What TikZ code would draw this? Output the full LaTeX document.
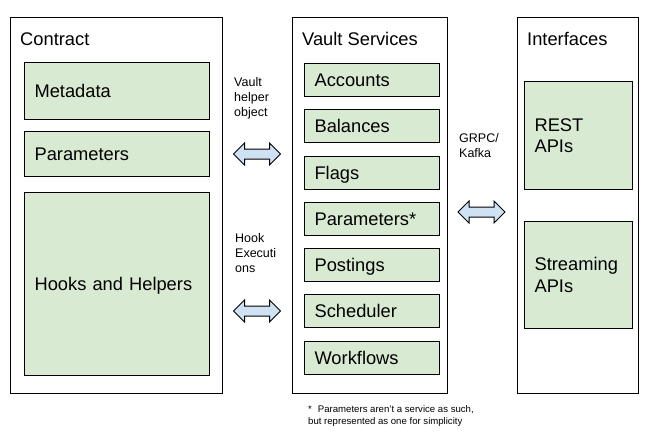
\documentclass[tikz,border=0pt]{standalone}
\usepackage{fontspec}
\setmainfont{Liberation Sans}
\definecolor{boxgreen}{HTML}{D9EAD3}
\definecolor{arrowblue}{HTML}{CFE2F3}
\begin{document}
\begin{tikzpicture}[x=1pt,y=-1pt,
  outerbox/.style={draw=black, line width=1.1pt, anchor=north west, inner sep=0pt},
  greenbox/.style={draw=black, line width=1.1pt, fill=boxgreen, anchor=north west, inner xsep=10pt, inner ysep=0pt, align=left, font=\fontsize{18.3}{21.7}\selectfont},
  oneline/.style={text height=13pt, text depth=0pt},
  titletext/.style={anchor=base west, inner sep=0pt, font=\fontsize{18.3}{21.7}\selectfont},
  sidelabel/.style={anchor=base west, inner sep=0pt, align=left, font=\fontsize{12.5}{15}\selectfont},
  arrowshape/.style={draw=black, line width=1pt, fill=arrowblue, line join=miter},
  dblarrow/.pic={\draw[arrowshape] (-23.5,0) -- (-12.5,-11) -- (-12.5,-5) -- (12.5,-5) -- (12.5,-11) -- (23.5,0) -- (12.5,11) -- (12.5,5) -- (-12.5,5) -- (-12.5,11) -- cycle;}
]
\useasboundingbox (0,0) rectangle (648,442);

% outer boxes
\node[outerbox, minimum width=212pt, minimum height=376pt] (contract) at (10,17) {};
\node[outerbox, minimum width=155pt, minimum height=376pt] (vault) at (292,17) {};
\node[outerbox, minimum width=121pt, minimum height=376pt] (interfaces) at (517,17) {};

\node[titletext] (tcontract) at (20,45.5) {Contract};
\node[titletext] (tvault) at (302,45.5) {Vault Services};
\node[titletext] (tinterfaces) at (527,45.5) {Interfaces};

% contract contents
\node[greenbox, oneline, text width=165pt, minimum height=57pt] (metadata) at (24,62) {Metadata};
\node[greenbox, oneline, text width=165pt, minimum height=45pt] (cparams) at (24,131) {Parameters};
\node[greenbox, oneline, text width=165pt, minimum height=183pt] (hooks) at (24,192) {Hooks and Helpers};

% vault services
\foreach \name/\txt/\ypos in {accounts/Accounts/63, balances/Balances/109, flags/Flags/156, vparams/Parameters*/202, postings/Postings/248, scheduler/Scheduler/294, workflows/Workflows/341}{
  \node[greenbox, oneline, text width=115pt, minimum height=33pt] (\name) at (304,\ypos) {\txt};
}

% interfaces
\node[greenbox, text width=88pt, minimum height=108pt] (rest) at (524,81) {REST\\APIs};
\node[greenbox, text width=88pt, minimum height=107pt] (streaming) at (524,221) {Streaming\\APIs};

% labels (base anchor = baseline of last line)
\node[sidelabel] (lblhelper) at (234,116) {Vault\\helper\\object};
\node[sidelabel] (lblhook) at (235,272) {Hook\\Executi\\ons};
\node[sidelabel] (lblgrpc) at (459,157) {GRPC/\\Kafka};

% arrows
\coordinate (arr1) at (257,154);
\coordinate (arr2) at (257,311);
\coordinate (arr3) at (481.5,212);
\pic at (arr1) {dblarrow};
\pic at (arr2) {dblarrow};
\pic at (arr3) {dblarrow};

% footnote
\node[anchor=base west, inner sep=0pt, align=left, font=\fontsize{9.6}{12}\selectfont] (footnote) at (308,424) {*\hspace{6pt}Parameters aren’t a service as such,\\but represented as one for simplicity};
\end{tikzpicture}
\end{document}
